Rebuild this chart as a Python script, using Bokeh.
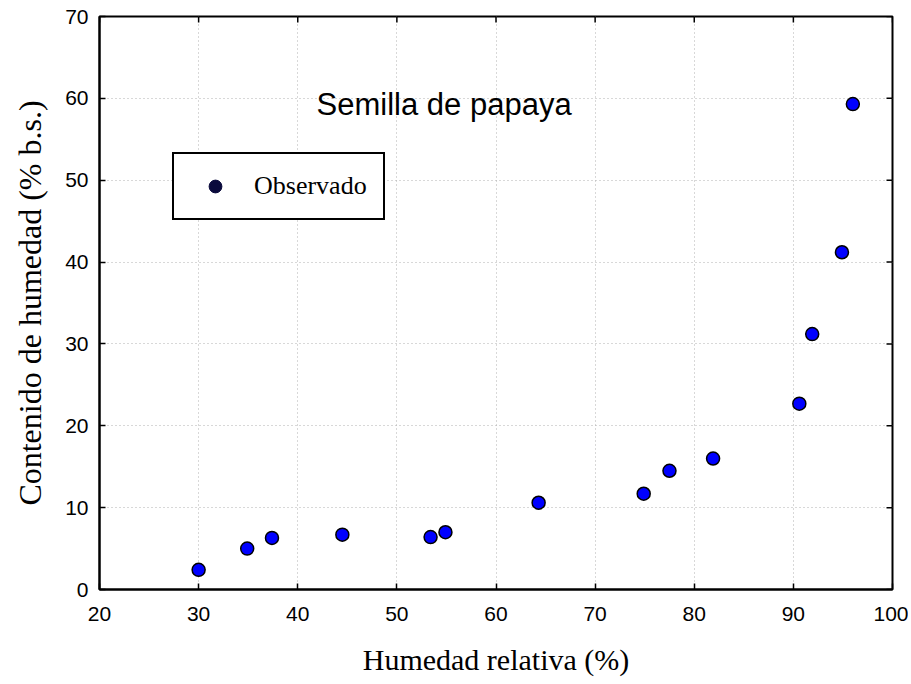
import math
from bokeh.plotting import figure
from bokeh.models import (FixedTicker, Legend, LegendItem, Label, Range1d)
from bokeh.embed import file_html
from bokeh.resources import INLINE

# Data
humedad_relativa = [30.0, 34.9, 37.4, 44.5, 53.4, 54.9, 64.3, 74.9, 77.5, 81.9, 90.6, 91.9, 94.9, 96.0]
contenido_humedad = [2.4, 5.0, 6.3, 6.7, 6.4, 7.0, 10.6, 11.7, 14.5, 16.0, 22.7, 31.2, 41.2, 59.3]
x_ticks = [20, 30, 40, 50, 60, 70, 80, 90, 100]
y_ticks = [0, 10, 20, 30, 40, 50, 60, 70]
serie_nombre = "Observado"
titulo = "Semilla de papaya"
x_titulo = "Humedad relativa (%)"
y_titulo = "Contenido de humedad (% b.s.)"

p = figure(width=908, height=678, output_backend="svg", toolbar_location=None,
           x_range=Range1d(x_ticks[0], x_ticks[-1]), y_range=Range1d(y_ticks[0], y_ticks[-1]),
           min_border_left=99, min_border_right=16, min_border_top=16, min_border_bottom=88)
p.background_fill_color = "white"
p.border_fill_color = "white"
p.outline_line_color = "black"
p.outline_line_width = 2

sans = "Liberation Sans"
serif = "Liberation Serif"

for ax in (p.xaxis[0], p.yaxis[0]):
    ax.axis_line_color = "black"
    ax.axis_line_width = 2
    ax.major_tick_in = 6
    ax.major_tick_out = 0
    ax.major_tick_line_color = "black"
    ax.major_tick_line_width = 1.5
    ax.minor_tick_line_color = None
    ax.major_label_text_font = sans
    ax.major_label_text_font_size = "21px"
    ax.major_label_text_color = "black"
    ax.axis_label_text_font = serif
    ax.axis_label_text_font_style = "normal"
    ax.axis_label_text_color = "black"

p.xaxis[0].ticker = FixedTicker(ticks=x_ticks)
p.yaxis[0].ticker = FixedTicker(ticks=y_ticks)
p.xaxis[0].axis_label = x_titulo
p.yaxis[0].axis_label = y_titulo
p.xaxis[0].axis_label_text_font_size = "30px"
p.yaxis[0].axis_label_text_font_size = "32px"
p.xaxis[0].major_label_standoff = 17
p.yaxis[0].major_label_standoff = 11
p.xaxis[0].axis_label_standoff = 19
p.yaxis[0].axis_label_standoff = 14

for g in (p.xgrid[0], p.ygrid[0]):
    g.grid_line_color = "#b0b0b0"
    g.grid_line_dash = "1 3"
    g.grid_line_width = 1

p.xgrid[0].ticker = FixedTicker(ticks=x_ticks)
p.ygrid[0].ticker = FixedTicker(ticks=y_ticks)

# mirrored inward ticks on top and right edges (clipped to the frame)
p.scatter(x_ticks, [y_ticks[-1]] * len(x_ticks), marker="dash", angle=math.pi / 2,
          size=12, line_color="black", line_width=1.5)
p.scatter([x_ticks[-1]] * len(y_ticks), y_ticks, marker="dash",
          size=12, line_color="black", line_width=1.5)

# legend glyph renderer (dark navy as in the reference legend), hidden under the first point
r_leg = p.scatter(humedad_relativa[:1], contenido_humedad[:1], size=12, marker="circle",
                  fill_color="#0a0a3c", line_color="#0a0a3c")

r = p.scatter(humedad_relativa, contenido_humedad, size=13, marker="circle",
              fill_color="#0000FF", line_color="black", line_width=1.5)

legend = Legend(items=[LegendItem(label=serie_nombre, renderers=[r_leg])],
                location=(73, 369), padding=16, glyph_width=50, glyph_height=32,
                label_standoff=14, label_text_font=serif, label_text_font_size="26px",
                label_text_color="black", border_line_color="black", border_line_width=2,
                border_line_alpha=1.0,
                background_fill_color="white", background_fill_alpha=1.0, margin=0)
p.add_layout(legend, "center")

p.add_layout(Label(x=41.9, y=59.3, text=titulo, text_font=sans, text_font_size="31px",
                   text_color="black", text_baseline="alphabetic"))

open("out.html", "w").write(file_html(p, INLINE))
